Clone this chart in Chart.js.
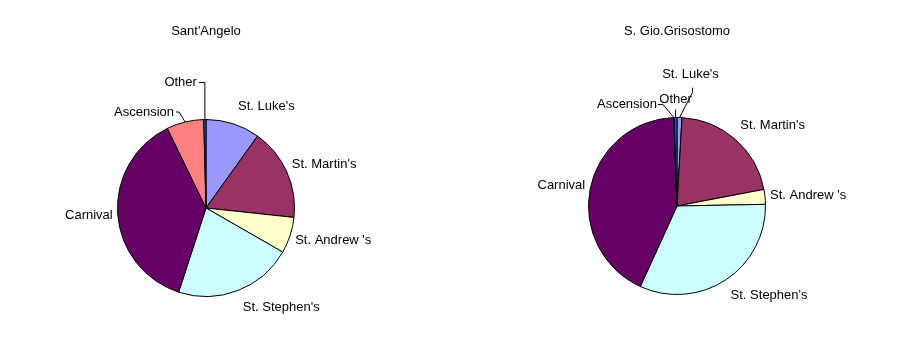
<!DOCTYPE html>
<html>
<head>
<meta charset="utf-8">
<script src="https://cdn.jsdelivr.net/npm/chart.js@4.4.0/dist/chart.umd.min.js"></script>
<style>
  body { margin: 0; background: #fff; }
  .wrap { display: flex; width: 908px; height: 355px; }
  canvas { display: block; }
</style>
</head>
<body>
<div class="wrap">
  <canvas id="leftChart" width="454" height="355"></canvas>
  <canvas id="rightChart" width="454" height="355"></canvas>
</div>
<script>
// categories (clockwise from 12 o'clock)
const categories = ["St. Luke's", "St. Martin's", "St. Andrew 's", "St. Stephen's", "Carnival", "Ascension", "Other"];

// share of performances, percent
const santAngelo = [9.9, 16.8, 6.6, 21.7, 37.8, 6.8, 0.4];
const grisostomo = [0.9, 21.1, 2.7, 32.1, 42.6, 0.1, 0.5];

const sliceColors = ["#9999FF", "#993366", "#FFFFCC", "#CCFFFF", "#660066", "#FF8080", "#0066CC"];

const FONT = "'Liberation Sans', Arial, sans-serif";

// draws the outside labels, with leader lines for the ones Excel pushed aside
const sliceLabels = {
  id: "sliceLabels",
  afterDatasetsDraw(chart, args, opts) {
    const ctx = chart.ctx;
    const meta = chart.getDatasetMeta(0);
    const labels = chart.data.labels;
    ctx.save();
    ctx.font = "13px " + FONT;
    ctx.fillStyle = "#000";
    ctx.strokeStyle = "#000";
    ctx.lineWidth = 1;
    meta.data.forEach((arc, i) => {
      const p = arc.getProps(["x", "y", "startAngle", "endAngle", "outerRadius"], true);
      const mid = (p.startAngle + p.endAngle) / 2;
      const ex = p.x + p.outerRadius * Math.cos(mid);
      const ey = p.y + p.outerRadius * Math.sin(mid);
      const nudge = (opts.leaders || {})[labels[i]];
      if (nudge) {
        ctx.beginPath();
        ctx.moveTo(ex, ey);
        nudge.line.forEach(pt => ctx.lineTo(ex + pt[0], ey + pt[1]));
        ctx.stroke();
        ctx.textAlign = nudge.align;
        ctx.textBaseline = "middle";
        ctx.fillText(labels[i], ex + nudge.text[0], ey + nudge.text[1]);
        return;
      }
      const right = Math.cos(mid) >= 0;
      ctx.textAlign = right ? "left" : "right";
      ctx.textBaseline = "middle";
      ctx.fillText(labels[i], ex + (right ? 5 : -5), ey + Math.sin(mid) * 18);
    });
    ctx.restore();
  }
};

function pieConfig(title, values, padding, titlePad, leaders) {
  return {
    type: "pie",
    data: {
      labels: categories,
      datasets: [{
        data: values,
        backgroundColor: sliceColors,
        borderColor: "#000",
        borderWidth: 1,
        borderAlign: "center"
      }]
    },
    options: {
      responsive: false,
      animation: false,
      devicePixelRatio: 1,
      layout: { padding: padding },
      plugins: {
        legend: { display: false },
        tooltip: { enabled: false },
        title: {
          display: true,
          text: title,
          color: "#000",
          font: { family: FONT, size: 13, weight: "normal", lineHeight: 1.2 },
          padding: titlePad
        },
        sliceLabels: { leaders: leaders }
      }
    },
    plugins: [sliceLabels]
  };
}

new Chart(document.getElementById("leftChart"),
  pieConfig("Sant'Angelo", santAngelo,
    { left: 117, right: 159, top: 0, bottom: 58 },
    { top: 24, bottom: 79.4 },
    {
      "Ascension": { line: [[-6, -10], [-9, -10]], text: [-11, -10], align: "right" },
      "Other": { line: [[0, -37], [-6, -37]], text: [-8, -37], align: "right" }
    }));

new Chart(document.getElementById("rightChart"),
  pieConfig("S. Gio.Grisostomo", grisostomo,
    { left: 134, right: 142, top: 0, bottom: 60 },
    { top: 23.5, bottom: 77.9 },
    {
      "St. Luke's": { line: [[13, -25], [13, -30]], text: [11, -43], align: "center" },
      "Ascension": { line: [[-11, -13], [-16, -13]], text: [-17, -13], align: "right" },
      "Other": { line: [[0, -8]], text: [0, -18], align: "center" }
    }));
</script>
</body>
</html>
